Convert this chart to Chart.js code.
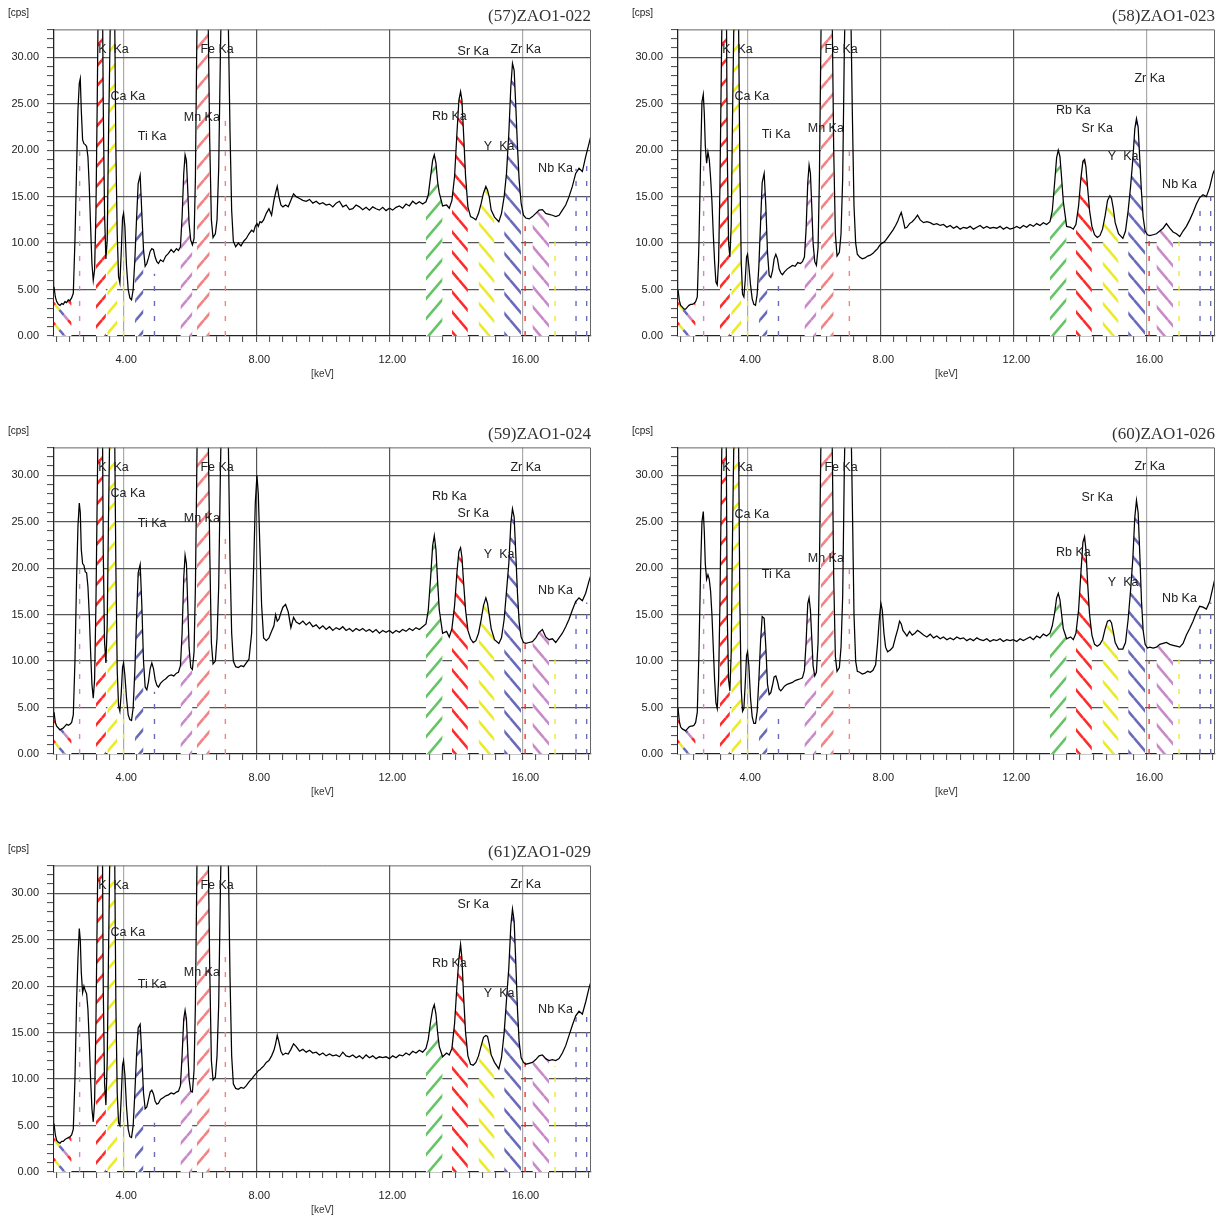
<!DOCTYPE html>
<html>
<head>
<meta charset="utf-8">
<title>XRF spectra ZAO1</title>
<script src="https://cdn.jsdelivr.net/npm/chart.js@4.4.1/dist/chart.umd.min.js"></script>
<style>
  html, body { margin: 0; padding: 0; background: #fff; overflow: hidden; }
  #wrap { position: relative; width: 1230px; height: 1221px; }
  #wrap canvas { position: absolute; }
</style>
</head>
<body>
<div id="wrap"></div>
<script>
// ---- data ----
const SAMPLES = ['(57)ZAO1-022', '(58)ZAO1-023', '(59)ZAO1-024', '(60)ZAO1-026', '(61)ZAO1-029'];

// shared energy grid [keV], denser around the peaks
const ENERGY = [
  1.92, 1.96, 2.00, 2.05, 2.10, 2.15, 2.20, 2.25, 2.30, 2.35, 2.40, 2.45, 2.50,
  2.55, 2.60, 2.64, 2.68, 2.71, 2.74, 2.78, 2.82, 2.86, 2.90, 2.94, 2.98, 3.02, 3.06, 3.10, 3.14,
  3.18, 3.22, 3.26, 3.31, 3.36, 3.40, 3.44, 3.48,
  3.52, 3.56, 3.60, 3.65, 3.69, 3.74, 3.78, 3.82, 3.86, 3.90,
  3.94, 3.98, 4.01, 4.05, 4.10, 4.15, 4.20, 4.25,
  4.30, 4.35, 4.40, 4.45, 4.51, 4.56, 4.61, 4.66, 4.71,
  4.76, 4.81, 4.86, 4.91, 4.96, 5.01, 5.06,
  5.12, 5.20, 5.28, 5.36, 5.44, 5.52, 5.60, 5.66,
  5.72, 5.77, 5.82, 5.86, 5.90, 5.94, 5.98, 6.03, 6.08,
  6.13, 6.17, 6.21, 6.27, 6.34, 6.40, 6.46, 6.50, 6.55, 6.60, 6.65, 6.70, 6.77,
  6.82, 6.87, 6.92, 6.97, 7.02, 7.06, 7.11, 7.16, 7.21, 7.26, 7.31,
  7.38, 7.46, 7.54, 7.62, 7.70, 7.78, 7.86, 7.92, 7.97, 8.02, 8.06, 8.11, 8.16, 8.22,
  8.30, 8.38, 8.46, 8.53, 8.58, 8.63, 8.68, 8.74, 8.80, 8.88, 8.96, 9.04, 9.12, 9.20,
  9.3, 9.4, 9.5, 9.6, 9.7, 9.8, 9.9, 10.0, 10.1, 10.2, 10.3, 10.4, 10.5, 10.6, 10.7, 10.8, 10.9, 11.0, 11.1,
  11.2, 11.3, 11.4, 11.5, 11.6, 11.7, 11.8, 11.9, 12.0, 12.1, 12.2, 12.3, 12.4, 12.5, 12.6, 12.7, 12.8, 12.9, 13.0,
  13.10, 13.17, 13.24, 13.30, 13.35, 13.40, 13.45, 13.50, 13.60, 13.72, 13.80, 13.88, 13.96,
  14.03, 14.09, 14.14, 14.18, 14.23, 14.29, 14.36, 14.44, 14.52, 14.60,
  14.68, 14.76, 14.83, 14.90, 14.95, 15.00, 15.06, 15.16, 15.29, 15.37,
  15.45, 15.52, 15.59, 15.65, 15.70, 15.75, 15.80, 15.85, 15.90, 15.96, 16.03, 16.10,
  16.2, 16.3, 16.4, 16.5, 16.6, 16.7, 16.8, 16.9, 17.0, 17.1, 17.2, 17.3, 17.4, 17.5, 17.6, 17.7, 17.8, 17.9, 18.0, 18.06
];

// intensities [cps], one array per sample, same order as ENERGY
const SPEC_57 = [
  5.3, 4.2, 3.7, 3.4, 3.3, 3.5, 3.4, 3.7, 3.6, 3.9, 3.8, 4.1, 4.6,
  10.3, 18.2, 24.3, 27.2, 27.7, 24.3, 21.1, 20.7, 20.6, 20.4, 19.3, 16.1, 11.8, 7.8, 6.0, 7.1,
  13.2, 25.4, 40, 60, 45, 25, 13, 8.3,
  10.3, 21.8, 30.8, 45, 60, 36, 20, 11, 6.4, 5.7,
  8.9, 12.7, 13.2, 11.8, 7.5, 5.0, 4.1, 3.9,
  5.0, 8.2, 12.5, 16.4, 17.3, 13.2, 9.3, 7.5, 7.8,
  8.4, 9.1, 9.4, 9.3, 8.5, 8.0, 7.8,
  8.2, 8.0, 8.6, 8.9, 9.3, 9.0, 9.4, 9.2,
  9.6, 12.8, 17.5, 19.5, 18.9, 15.7, 12.1, 10.3, 9.8,
  10.5, 17, 31, 50, 60, 65, 60, 48, 35, 21, 12.5, 10.6, 11.0,
  12.5, 18, 30, 40, 45, 45, 40, 33.5, 22, 13.5, 10.2,
  9.6, 10.0, 9.7, 10.2, 10.5, 11.0, 11.4, 11.2, 11.8, 12.1, 11.8, 12.3, 12.2, 12.5,
  13.2, 13.7, 13.0, 14.6, 15.4, 16.1, 15.0, 14.1, 13.9, 14.1, 13.9, 14.6, 15.3, 15.0,
  14.8, 14.6, 14.5, 14.7, 14.3, 14.5, 14.2, 14.35, 14.1, 14.2, 13.9, 14.3, 14.5, 13.9, 14.1, 13.6, 13.7, 14.1, 13.9,
  13.6, 13.85, 13.55, 13.9, 13.7, 13.55, 13.85, 13.5, 13.75, 13.55, 13.85, 14.0, 13.75, 14.2, 14.0, 14.5, 14.2, 14.45, 14.2,
  14.45, 15.2, 17.2, 18.9, 19.5, 18.6, 16.6, 15.4, 14.0, 14.1, 13.75, 14.6, 17.2,
  21.8, 25.4, 26.3, 25.4, 21.8, 17.2, 13.9, 12.85, 12.7, 12.5,
  13.2, 14.3, 15.4, 16.1, 15.7, 15.0, 13.55, 12.8, 12.3, 13.2,
  15.0, 17.5, 21.8, 26.8, 29.35, 28.6, 24.7, 20.4, 16.8, 14.3, 13.0, 12.7,
  12.6, 12.85, 13.2, 13.55, 13.6, 13.2, 13.1, 13.0, 12.85, 13.0, 13.55, 14.1, 15.0, 16.1, 17.5, 18.05, 17.7, 19.3, 20.7, 21.6
];
const SPEC_58 = [
  5.0, 3.8, 3.3, 3.1, 2.9, 2.9, 3.1, 3.3, 3.4, 3.4, 3.5, 3.7, 4.2,
  10, 19, 25.2, 26.0, 24, 20.5, 18.6, 19.8, 19.0, 17.0, 14.5, 11, 8, 5.8, 5.5, 8,
  16, 28, 40, 60, 45, 20, 10, 8.5,
  12, 24, 34, 45, 55, 34, 18, 8, 4.5, 4.2,
  6, 8.5, 8.8, 7.5, 5.5, 4.0, 3.4, 3.3,
  4.5, 7.5, 12, 16.5, 17.5, 14, 9, 6.5, 6.3,
  7.0, 8.3, 8.8, 8.3, 7.2, 6.8, 6.6,
  6.9, 7.2, 7.4, 7.6, 7.5, 7.9, 7.8, 8.0,
  8.5, 11.5, 16.5, 18.4, 17.5, 14, 10, 8.0, 7.6,
  9.5, 17, 30, 50, 60, 65, 60, 48, 36, 20, 11, 8.6, 9.0,
  11, 17, 31, 40, 45, 45, 36, 24, 14, 10, 8.8,
  8.5, 8.3, 8.4, 8.6, 8.7, 8.9, 9.2, 9.4, 9.7, 9.9, 10.0, 10.1, 10.3, 10.6,
  11.0, 11.4, 11.9, 12.4, 12.9, 13.3, 12.6, 11.6, 11.7, 12.1, 12.3, 12.6, 13.0, 12.5,
  12.2, 12.3, 12.2, 12.0, 12.1, 11.9, 12.0, 11.7, 11.9, 11.6, 11.8, 11.5, 11.7, 11.6, 11.8, 11.5, 11.7, 11.9, 11.6,
  11.8, 11.6, 11.7, 11.6, 11.8, 11.5, 11.7, 11.5, 11.6, 11.8, 11.6, 11.9, 11.7, 12.0, 11.8, 12.1, 11.9, 12.2, 12.0,
  12.3, 13.5, 16.5, 19.2, 20.0, 19.3, 17, 14.5, 11.8, 11.7, 11.5, 12.0, 14,
  17, 18.8, 19.0, 18.2, 16, 13.5, 11.8, 10.9, 10.6, 10.8,
  11.5, 13, 14.6, 15.1, 14.8, 13.8, 12.2, 11.0, 10.5, 11.3,
  13.5, 16.0, 19.0, 22.3, 23.4, 22.5, 19, 15.5, 12.8, 11.3, 10.9, 10.8,
  10.9, 11.0, 11.3, 11.6, 12.1, 11.6, 11.2, 11.0, 10.7, 11.3, 11.8, 12.5, 13.3, 14.2, 14.9, 15.2, 15.0, 16.0, 17.5, 18.0
];
const SPEC_59 = [
  4.5, 3.4, 3.0, 2.8, 2.6, 2.7, 2.8, 3.0, 3.2, 3.1, 3.2, 3.4, 4.2,
  10, 19, 24.5, 27.0, 26, 22, 20.5, 20.3, 19.6, 19.5, 18.0, 15, 11, 7.5, 6.0, 8,
  16, 28, 40, 60, 45, 22, 12, 9.8,
  14, 26, 36, 48, 55, 36, 20, 9, 5.2, 4.6,
  6.5, 9.3, 9.8, 8.5, 6.0, 4.2, 3.7, 3.6,
  5.0, 9, 14.5, 19.5, 20.4, 16, 10, 7.2, 6.9,
  7.8, 9.2, 9.8, 9.2, 8.0, 7.4, 7.2,
  7.6, 7.9, 8.1, 8.4, 8.5, 8.4, 8.7, 8.8,
  9.5, 13, 19, 21.4, 20.5, 16, 11.5, 9.3, 9.1,
  11, 18, 30, 50, 60, 65, 60, 48, 36, 22, 12, 9.7, 10.0,
  12.5, 18, 30, 40, 45, 45, 40, 33.5, 21, 13, 10.0,
  9.4, 9.3, 9.5, 9.4, 9.8, 10.2, 13, 20, 27, 30.0, 28, 22, 16, 12.5,
  12.2, 12.5, 13.2, 13.8, 15.0, 14.3, 14.5, 15.2, 15.8, 16.1, 15.3, 13.6, 14.7, 14.2,
  14.0, 14.3, 13.9, 14.2, 13.7, 13.9, 13.5, 13.8, 13.4, 13.7, 13.3, 13.6, 13.4, 13.7, 13.3, 13.5, 13.2, 13.5, 13.3,
  13.5, 13.2, 13.4, 13.1, 13.4, 13.0, 13.3, 13.1, 13.3, 13.0, 13.3, 13.1, 13.4, 13.2, 13.5, 13.3, 13.6, 13.4, 13.7,
  14.0, 15.5, 19, 22.4, 23.5, 22, 18.5, 15.5, 13.0, 13.2, 12.6, 13.5, 16,
  19.5, 21.8, 22.2, 21.2, 18.5, 15.5, 13.3, 12.4, 12.0, 12.2,
  13.0, 14.5, 16.0, 16.8, 16.2, 15.0, 13.5, 12.3, 11.9, 12.5,
  14.5, 17.5, 20.5, 24.8, 26.4, 25.5, 21.5, 17.3, 14.2, 12.6, 12.0, 11.9,
  12.0, 12.1, 12.5, 13.1, 13.4, 12.6, 12.3, 12.4, 12.0, 12.5, 13.0, 13.7, 14.5, 15.5, 16.4, 16.8, 16.5, 17.3, 18.6, 19.3
];
const SPEC_60 = [
  5.0, 3.5, 2.9, 2.7, 2.6, 2.5, 2.7, 2.9, 3.0, 3.0, 3.1, 3.4, 4.5,
  11, 20, 25, 26.1, 24, 20.5, 18.8, 19.3, 18.8, 17.5, 15, 11.5, 8, 5.5, 4.9, 8,
  16, 28, 40, 60, 40, 15, 8, 6.8,
  11, 24, 34, 48, 55, 34, 16, 7, 4.6, 4.9,
  7.5, 10.6, 11.0, 9.5, 6, 4.0, 3.3, 3.3,
  4.6, 8, 12, 14.8, 14.6, 11.5, 7.5, 6.4, 6.6,
  7.4, 8.3, 8.4, 7.8, 7.0, 6.8, 7.0,
  7.3, 7.5, 7.6, 7.7, 7.9, 8.0, 8.1, 8.2,
  9.0, 12, 16.2, 16.8, 15.5, 12.5, 9.5, 8.4, 8.8,
  12, 20, 32, 50, 60, 65, 60, 48, 35, 19, 10.5, 8.9, 9.3,
  11.5, 17, 31, 40, 45, 45, 38, 27, 15, 10, 8.9,
  8.8, 8.6, 8.7, 8.9, 8.8, 9.0, 9.6, 12, 14.5, 16.2, 15.5, 13, 11.5, 11.0,
  11.2, 11.5, 12.6, 13.5, 14.3, 14.0, 13.3, 13.0, 12.7, 13.2, 12.8, 13.0, 13.3, 13.1,
  12.8, 12.6, 12.9, 12.5, 12.7, 12.4, 12.6, 12.3, 12.5, 12.3, 12.6, 12.4, 12.5, 12.2, 12.4, 12.2, 12.5, 12.3, 12.2,
  12.4, 12.1, 12.3, 12.2, 12.4, 12.1, 12.3, 12.2, 12.3, 12.1, 12.4, 12.2, 12.4, 12.6, 12.3, 12.7, 12.5, 12.9, 12.7,
  13.0, 13.8, 15.2, 16.8, 17.3, 16.6, 15, 13.5, 12.4, 12.6, 12.3, 13.0, 15.5,
  19.5, 22.8, 23.4, 22, 18.5, 15, 12.8, 11.8, 11.6, 11.8,
  12.3, 13.5, 14.3, 14.4, 14.1, 13.2, 12.0, 11.3, 11.3, 12.0,
  14.5, 17.5, 21, 25.5, 27.3, 26, 21.5, 16.5, 13.3, 11.8, 11.4, 11.5,
  11.4, 11.5, 11.8, 11.9, 12.0, 11.8, 11.7, 11.6, 11.5, 11.9, 12.8, 13.5, 14.3, 15.2, 15.9, 15.8, 15.6, 16.4, 18.0, 18.9
];
const SPEC_61 = [
  5.2, 4.0, 3.4, 3.2, 3.1, 3.3, 3.3, 3.5, 3.6, 3.7, 3.8, 4.0, 4.6,
  10, 18.5, 23, 26.2, 25, 21.5, 19.3, 20.0, 19.5, 19.2, 17.5, 14, 10, 6.8, 5.4, 7.5,
  16, 28, 40, 60, 45, 20, 9.5, 7.2,
  12, 24, 35, 48, 55, 36, 18, 8.5, 5.3, 5.0,
  8, 11.5, 12.0, 10.5, 7, 4.6, 3.8, 3.7,
  5.0, 8.5, 12.5, 15.5, 15.9, 12.5, 8.5, 6.8, 7.0,
  7.8, 8.6, 8.8, 8.4, 7.6, 7.3, 7.4,
  7.8, 8.0, 8.2, 8.3, 8.5, 8.4, 8.6, 8.7,
  9.3, 12.5, 16.5, 17.4, 16.5, 13, 10, 8.7, 8.6,
  11, 18, 31, 50, 60, 65, 60, 48, 36, 22, 12, 9.9, 10.2,
  12.5, 18, 30, 40, 45, 45, 40, 33.5, 21, 12.5, 9.5,
  9.0, 8.9, 9.1, 9.0, 9.3, 9.7, 10.0, 10.3, 10.5, 10.7, 10.9, 11.0, 11.2, 11.4,
  11.8, 12.0, 12.5, 13.1, 13.8, 14.7, 14.0, 13.0, 12.6, 12.8, 12.7, 13.2, 13.8, 13.5,
  13.0, 13.2, 12.9, 13.1, 12.8, 12.9, 12.6, 12.8, 12.5, 12.7, 12.5, 12.6, 12.4, 12.9, 12.5, 12.4, 12.6, 12.3, 12.5,
  12.2, 12.6, 12.3, 12.5, 12.2, 12.4, 12.3, 12.4, 12.2, 12.5, 12.3, 12.6, 12.5, 12.8, 12.6, 13.0, 12.8, 13.1, 12.9,
  13.3, 14.3, 16.2, 17.5, 18.0, 17.0, 15.0, 13.5, 12.4, 12.8, 12.6, 13.3, 16,
  20, 23, 24.5, 23, 19, 15, 12.5, 11.6, 11.5, 11.8,
  12.5, 13.6, 14.5, 14.7, 14.6, 13.8, 12.6, 11.8, 11.1, 12.3,
  15.0, 18.5, 22, 26.5, 28.3, 27.0, 22.5, 17.5, 14, 12.3, 11.8, 11.6,
  11.7, 11.8, 12.1, 12.5, 12.6, 12.2, 12.0, 12.1, 12.0, 12.2, 12.8, 13.6, 14.7, 15.8, 16.8, 17.3, 17.0, 18.3, 19.8, 20.5
];
const SPECTRA = [SPEC_57, SPEC_58, SPEC_59, SPEC_60, SPEC_61];

// regions of interest (hatched under the spectrum) [keV]
const ROI_NAMES = ['low', 'K', 'Ca', 'Ti', 'Mn', 'Fe', 'Rb', 'Sr', 'Y', 'Zr', 'Nb'];
const ROI_FROM  = [1.92, 3.18, 3.52, 4.35, 5.72, 6.21, 13.10, 13.88, 14.68, 15.45, 16.30];
const ROI_TO    = [2.45, 3.48, 3.82, 4.61, 6.08, 6.60, 13.60, 14.36, 15.16, 15.96, 16.80];

// narrow K-beta windows: energy [keV] and marker height [cps] per sample
const KB_ENERGY = [2.69, 4.01, 4.94, 7.07, 16.08, 16.98, 17.61, 17.93];
const KB_HEIGHT = [
  [20.0, 8.5, 6.7, 24.0, 11.8, 11.0, 18.0, 19.0],
  [19.0, 6.0, 5.5, 21.0, 10.5, 10.5, 14.5, 15.0],
  [20.0, 8.0, 6.7, 24.0, 11.8, 11.0, 16.5, 16.3],
  [19.3, 7.0, 4.6, 20.7, 10.0, 11.0, 15.0, 16.3],
  [19.7, 8.0, 5.3, 24.0, 11.8, 11.4, 16.8, 17.5]
];

// element labels: text, energy of left edge [keV], height [cps] per sample
const LABEL_TEXT = ['K  Ka', 'Ca Ka', 'Ti Ka', 'Mn Ka', 'Fe Ka', 'Rb Ka', 'Sr Ka', 'Y  Ka', 'Zr Ka', 'Nb Ka'];
const LABEL_E    = [3.25, 3.62, 4.44, 5.82, 6.32, 13.28, 14.05, 14.84, 15.64, 16.47];
const LABEL_CPS  = [
  [30.8, 25.8, 21.5, 23.5, 30.8, 23.6, 30.6, 20.4, 30.8, 18.05],
  [30.8, 25.8, 21.7, 22.3, 30.8, 24.25, 22.3, 19.3, 27.7, 16.25],
  [30.8, 28.0, 24.8, 25.3, 30.8, 27.7, 25.9, 21.5, 30.8, 17.6],
  [30.8, 25.8, 19.3, 21.0, 30.8, 21.7, 27.6, 18.5, 30.9, 16.7],
  [30.8, 25.8, 20.2, 21.45, 30.8, 22.4, 28.8, 19.2, 30.9, 17.5]
];

// axes
const X_MIN = 1.92, X_MAX = 18.06, Y_MAX = 33;
const X_MAJOR = [4, 8, 12, 16];
const X_TICKS = [];
for (let k = 0; k <= 40; k++) X_TICKS.push(Number((2 + 0.4 * k).toFixed(1)));

// ---- styles ----
const SANS = '"Liberation Sans", Arial, sans-serif';
const COL = {
  red: '#ff2b2b', yellow: '#ebeb2a', blue: '#6a6aba',
  orchid: '#c88ac8', salmon: '#f48282', green: '#66c466'
};
const ROI_STYLE = {
  low: { colors: [COL.red, COL.yellow, COL.blue, COL.orchid], dir: '\\' },
  K:  { colors: [COL.red], dir: '/' },
  Ca: { colors: [COL.yellow], dir: '/' },
  Ti: { colors: [COL.blue], dir: '/' },
  Mn: { colors: [COL.orchid], dir: '/' },
  Fe: { colors: [COL.salmon], dir: '/' },
  Rb: { colors: [COL.green], dir: '/' },
  Sr: { colors: [COL.red], dir: '\\' },
  Y:  { colors: [COL.yellow], dir: '\\' },
  Zr: { colors: [COL.blue], dir: '\\' },
  Nb: { colors: [COL.orchid], dir: '\\' }
};
const KB_COLORS = [COL.orchid, COL.yellow, COL.blue, COL.salmon, COL.red, COL.yellow, COL.blue, COL.blue];
const PANEL_POS = [[0, 0], [624, 0], [0, 418], [624, 418], [0, 836]];

// white tile with diagonal stripes, used as fill under the curve
function makeHatch(colors, dir) {
  const W = 17, H = 20;
  const cv = document.createElement('canvas');
  cv.width = W; cv.height = H;
  const g = cv.getContext('2d');
  g.fillStyle = '#fff';
  g.fillRect(0, 0, W, H);
  g.lineWidth = 2.6;
  const slope = H / W;
  const yAt = (x, k) => dir === '/' ? H - slope * x + k * H : slope * x + k * H;
  const seg = W / colors.length;
  for (let s = -1; s <= 1; s++) {
    for (let k = -2; k <= 2; k++) {
      colors.forEach((c, i) => {
        const x0 = s * W + i * seg, x1 = x0 + seg;
        g.strokeStyle = c;
        g.beginPath();
        g.moveTo(x0, yAt(x0, k));
        g.lineTo(x1, yAt(x1, k));
        g.stroke();
      });
    }
  }
  return g.createPattern(cv, 'repeat');
}

const patterns = {};
ROI_NAMES.forEach(n => { patterns[n] = makeHatch(ROI_STYLE[n].colors, ROI_STYLE[n].dir); });

// labels, [cps] unit and the top/right frame
const xrfLabels = {
  id: 'xrfLabels',
  afterDatasetsDraw(chart, args, opts) {
    const { ctx, chartArea: a, scales: { x, y } } = chart;
    ctx.save();
    ctx.strokeStyle = '#666';
    ctx.lineWidth = 1;
    ctx.beginPath();
    ctx.moveTo(a.left, a.top + 0.5);
    ctx.lineTo(a.right - 0.5, a.top + 0.5);
    ctx.lineTo(a.right - 0.5, a.bottom);
    ctx.stroke();

    ctx.fillStyle = '#222';
    ctx.textAlign = 'left';
    ctx.textBaseline = 'middle';
    ctx.font = '12.5px ' + SANS;
    LABEL_TEXT.forEach((t, i) => {
      ctx.fillText(t, x.getPixelForValue(LABEL_E[i]), y.getPixelForValue(opts.cps[i]));
    });
    ctx.font = '10px ' + SANS;
    ctx.fillText('[cps]', 8, 13);
    ctx.restore();
  }
};

function xGridColor(v) {
  if (v === 8 || v === 12) return '#555';
  if (v === 4 || v === 16) return '#aaa';
  return 'rgba(0,0,0,0)';
}

function buildPanel(p) {
  const cv = document.createElement('canvas');
  cv.width = 624;
  cv.height = 418;
  cv.style.left = PANEL_POS[p][0] + 'px';
  cv.style.top = PANEL_POS[p][1] + 'px';
  document.getElementById('wrap').appendChild(cv);

  const spec = SPECTRA[p];
  const n = Math.min(ENERGY.length, spec.length);
  const pts = [];
  for (let i = 0; i < n; i++) pts.push({ x: ENERGY[i], y: spec[i] });

  const datasets = [{
    data: pts,
    borderColor: '#000',
    borderWidth: 1.25,
    pointRadius: 0,
    fill: false,
    order: 0
  }];

  ROI_NAMES.forEach((name, r) => {
    datasets.push({
      data: pts.filter(pt => pt.x >= ROI_FROM[r] - 1e-6 && pt.x <= ROI_TO[r] + 1e-6),
      borderColor: 'rgba(0,0,0,0)',
      borderWidth: 0,
      pointRadius: 0,
      fill: 'origin',
      backgroundColor: patterns[name],
      order: 2
    });
  });

  KB_ENERGY.forEach((e, j) => {
    datasets.push({
      data: [{ x: e, y: 0 }, { x: e, y: KB_HEIGHT[p][j] }],
      borderColor: KB_COLORS[j],
      borderWidth: 1.4,
      borderDash: [5, 10],
      pointRadius: 0,
      fill: false,
      order: 1
    });
  });

  new Chart(cv, {
    type: 'line',
    data: { datasets },
    plugins: [xrfLabels],
    options: {
      responsive: false,
      animation: false,
      events: [],
      layout: { padding: { left: 0, top: 0, right: 33, bottom: 0 } },
      plugins: {
        legend: { display: false },
        tooltip: { enabled: false },
        title: {
          display: true,
          text: SAMPLES[p],
          align: 'end',
          color: '#333',
          font: { family: '"Liberation Serif", "DejaVu Serif", serif', size: 17, weight: 'normal' },
          padding: { top: 6, bottom: 3 }
        },
        xrfLabels: { cps: LABEL_CPS[p] }
      },
      scales: {
        x: {
          type: 'linear',
          min: X_MIN,
          max: X_MAX,
          afterBuildTicks: s => { s.ticks = X_TICKS.map(v => ({ value: v })); },
          afterFit: s => { s.height = 82; },
          ticks: {
            autoSkip: false,
            maxRotation: 0,
            padding: 11,
            labelOffset: 3,
            color: '#222',
            font: { family: SANS, size: 11 },
            callback: v => X_MAJOR.includes(v) ? v.toFixed(2) : ''
          },
          grid: {
            color: ctx => xGridColor(ctx.tick ? ctx.tick.value : null),
            lineWidth: 1.2,
            tickLength: 6,
            tickColor: '#444',
            tickWidth: 1
          },
          border: { color: '#222', width: 1.3 },
          title: {
            display: true,
            text: '[keV]',
            color: '#333',
            font: { family: SANS, size: 10 },
            padding: { top: 0, bottom: 38 }
          }
        },
        y: {
          type: 'linear',
          min: 0,
          max: Y_MAX,
          afterFit: s => { s.width = 54; },
          ticks: {
            stepSize: 1,
            autoSkip: false,
            padding: 8,
            color: '#222',
            font: { family: SANS, size: 11 },
            callback: v => (v % 5 === 0 && v <= 30) ? v.toFixed(2) : ''
          },
          grid: {
            color: ctx => {
              const v = ctx.tick ? ctx.tick.value : -1;
              return (v > 0 && v <= 30 && v % 5 === 0) ? '#555' : 'rgba(0,0,0,0)';
            },
            lineWidth: 1.2,
            tickLength: 7,
            tickColor: '#444',
            tickWidth: 1
          },
          border: { color: '#222', width: 1.3 }
        }
      }
    }
  });
}

SAMPLES.forEach((s, p) => buildPanel(p));
</script>
</body>
</html>
